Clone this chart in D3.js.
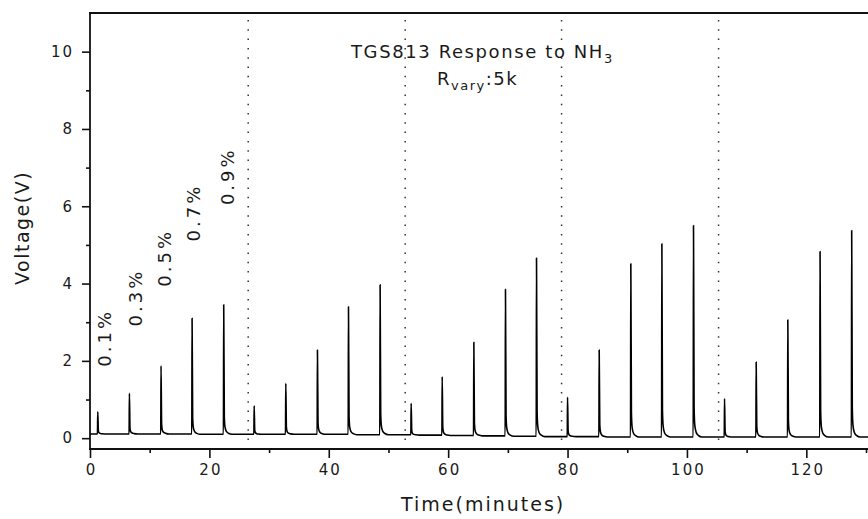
<!DOCTYPE html>
<html>
<head>
<meta charset="utf-8">
<script src="https://cdn.jsdelivr.net/npm/d3@7"></script>
<style>
  body { margin: 0; background: #fff; }
  svg { display: block; font-family: "DejaVu Sans", Verdana, sans-serif; }
  .tick line { stroke: #111; stroke-width: 1.6px; }
</style>
</head>
<body>
<svg id="chart" width="868" height="519"></svg>
<script>
// peak time (minutes) and peak voltage
const peakTime = [1.3, 6.6, 11.9, 17.1, 22.4,
                  27.5, 32.8, 38.1, 43.3, 48.6,
                  53.8, 59.0, 64.3, 69.6, 74.8,
                  80.0, 85.3, 90.6, 95.8, 101.1,
                  106.3, 111.6, 116.9, 122.3, 127.6];
const peakVolt = [0.68, 1.16, 1.87, 3.10, 3.45,
                  0.84, 1.42, 2.28, 3.40, 3.97,
                  0.90, 1.59, 2.48, 3.85, 4.66,
                  1.06, 2.28, 4.51, 5.03, 5.50,
                  1.02, 1.97, 3.06, 4.83, 5.37];
// baseline level just before each peak
const baseVolt = [0.11, 0.11, 0.11, 0.11, 0.1,
                  0.1, 0.1, 0.1, 0.1, 0.09,
                  0.09, 0.08, 0.07, 0.06, 0.05,
                  0.04, 0.04, 0.03, 0.03, 0.03,
                  0.03, 0.03, 0.03, 0.03, 0.03];
// shape of the decay after a peak (minutes after peak, fraction of peak height left)
const decayDt   = [0.1, 0.22, 0.45, 0.8, 1.4];
const decayFrac = [0.14, 0.055, 0.022, 0.008, 0.0];

const dividerT = [26.5, 52.8, 79.0, 105.3];

const concLabels = ["0.1%", "0.3%", "0.5%", "0.7%", "0.9%"];
const concLabelT = [2.5, 7.7, 12.4, 17.4, 23.0];
const concLabelV = [1.85, 2.89, 3.92, 5.09, 6.03];

const xMajor = [0, 20, 40, 60, 80, 100, 120];
const xMinor = [10, 30, 50, 70, 90, 110, 130];
const yMajor = [0, 2, 4, 6, 8, 10];
const yMinor = [1, 3, 5, 7, 9];

const svg = d3.select("#chart");

let x = d3.scaleLinear().domain([0, 130.5]).range([90, 869]);
let y = d3.scaleLinear().domain([-0.28, 11]).range([449, 13]);

// build the trace from the peaks
let trace = [[0, baseVolt[0]]];
peakTime.forEach((t, i) => {
    let b = baseVolt[i];
    let nb = i + 1 < baseVolt.length ? baseVolt[i + 1] : b;
    trace.push([t - 0.05, b]);
    trace.push([t, peakVolt[i]]);
    decayDt.forEach((dt, k) => {
        trace.push([t + dt, nb + (peakVolt[i] - nb) * decayFrac[k]]);
    });
});
trace.push([130.5, baseVolt[baseVolt.length - 1]]);

// dotted dividers
svg.append("g").selectAll("line")
    .data(dividerT)
    .join("line")
    .attr("x1", d => x(d)).attr("x2", d => x(d))
    .attr("y1", 20).attr("y2", 447)
    .attr("stroke", "#333")
    .attr("stroke-width", 1.5)
    .attr("stroke-dasharray", "1.5,7.8");

// axes
let yAxis = svg.append("g").attr("transform", "translate(90,0)")
    .call(d3.axisLeft(y).tickValues(yMajor).tickSize(8).tickSizeOuter(0).tickPadding(8));
yAxis.select(".domain").remove();
svg.append("g").attr("transform", "translate(90,0)")
    .call(d3.axisLeft(y).tickValues(yMinor).tickSize(4).tickFormat(""))
    .select(".domain").remove();

let xAxis = svg.append("g").attr("transform", "translate(0,449)")
    .call(d3.axisBottom(x).tickValues(xMajor).tickSize(9).tickSizeOuter(0).tickPadding(6));
xAxis.select(".domain").remove();
xAxis.selectAll(".tick text").attr("dx", "1px");
svg.append("g").attr("transform", "translate(0,449)")
    .call(d3.axisBottom(x).tickValues(xMinor).tickSize(4).tickFormat(""))
    .select(".domain").remove();

svg.selectAll(".tick text")
    .attr("font-family", "DejaVu Sans")
    .attr("font-size", 15)
    .style("letter-spacing", "2px")
    .attr("fill", "#1a1a1a");

// frame lines
svg.append("line").attr("x1", 90).attr("x2", 90).attr("y1", 13).attr("y2", 449)
    .attr("stroke", "#111").attr("stroke-width", 1.8);
svg.append("line").attr("x1", 89).attr("x2", 868).attr("y1", 449).attr("y2", 449)
    .attr("stroke", "#111").attr("stroke-width", 1.8);
svg.append("line").attr("x1", 89).attr("x2", 868).attr("y1", 13).attr("y2", 13)
    .attr("stroke", "#111").attr("stroke-width", 2);

// the trace
let line = d3.line().x(d => x(d[0])).y(d => y(d[1])).curve(d3.curveMonotoneX);
svg.append("path")
    .datum(trace)
    .attr("d", line)
    .attr("fill", "none")
    .attr("stroke", "#000")
    .attr("stroke-width", 1.6)
    .attr("stroke-linejoin", "round");

// concentration labels
svg.append("g").selectAll("text")
    .data(concLabels)
    .join("text")
    .attr("transform", (d, i) => `translate(${x(concLabelT[i])},${y(concLabelV[i])}) rotate(-90)`)
    .attr("dy", "0.36em")
    .style("font-size", "18px")
    .style("letter-spacing", "3px")
    .attr("fill", "#1a1a1a")
    .text(d => d);

// axis titles
svg.append("text")
    .attr("transform", "translate(29,285) rotate(-90)")
    .style("font-size", "19px")
    .style("letter-spacing", "1.5px")
    .attr("fill", "#1a1a1a")
    .text("Voltage(V)");
svg.append("text")
    .attr("x", 401).attr("y", 511)
    .style("font-size", "19px")
    .style("letter-spacing", "2px")
    .attr("fill", "#1a1a1a")
    .text("Time(minutes)");

// title
let t1 = svg.append("text").attr("x", 351).attr("y", 58)
    .style("font-size", "18px").style("letter-spacing", "1.6px").attr("fill", "#1a1a1a");
t1.append("tspan").text("TGS813 Response to NH");
t1.append("tspan").attr("dy", 5).style("font-size", "13px").text("3");

let t2 = svg.append("text").attr("x", 437).attr("y", 85)
    .style("font-size", "18px").style("letter-spacing", "1.5px").attr("fill", "#1a1a1a");
t2.append("tspan").text("R");
t2.append("tspan").attr("dy", 5).style("font-size", "13px").text("vary");
t2.append("tspan").attr("dy", -5).text(":5k");
</script>
</body>
</html>
